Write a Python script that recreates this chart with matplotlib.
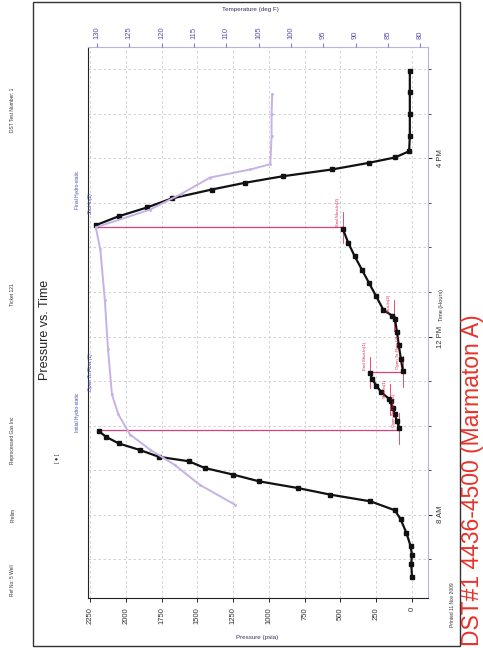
import numpy as np
import matplotlib.pyplot as plt
from matplotlib.patches import Rectangle

plt.rcParams['font.family'] = ['Liberation Sans', 'DejaVu Sans']

# ---- data (time in hours of day, pressure in psia, temperature in deg F)
# run in hole
run_t = [6.6, 6.9, 7.1, 7.3, 7.6, 7.9, 8.1, 8.3, 8.45, 8.6, 8.75, 8.9, 9.05, 9.2, 9.3, 9.45, 9.6, 9.75, 9.88]
run_p = [0, 5, 0, 10, 40, 80, 120, 290, 570, 800, 1070, 1250, 1450, 1560, 1770, 1900, 2050, 2140, 2190]
# first flow
ff1_t = [9.95, 10.1, 10.25, 10.4, 10.55]
ff1_p = [90, 105, 120, 135, 150]
# initial shut-in
isi_t = [10.6, 10.75, 10.9, 11.05, 11.19]
isi_p = [160, 215, 250, 278, 295]
# second flow
ff2_t = [11.22, 11.5, 11.8, 12.1, 12.4]
ff2_p = [63, 78, 92, 105, 119]
# final shut-in
fsi_t = [12.47, 12.6, 12.9, 13.2, 13.5, 13.8, 14.1, 14.42]
fsi_p = [140, 200, 250, 300, 350, 400, 445, 484]
# pull out of hole
pull_t = [14.5, 14.7, 14.9, 15.1, 15.3, 15.45, 15.6, 15.75, 15.9, 16.02, 16.16, 16.5, 17.0, 17.5, 17.96]
pull_p = [2210, 2050, 1850, 1680, 1400, 1170, 900, 560, 300, 119, 20, 15, 15, 15, 15]
# temperature
temp_t = [8.22, 8.67, 9.12, 9.46, 9.8, 10.25, 10.7, 11.71, 12.83, 13.96, 14.45,
          14.85, 15.2, 15.57, 15.75, 15.87, 16.5, 17.0, 17.44]
temp_f = [108.6, 114.1, 118.0, 121.8, 124.9, 126.7, 127.7, 128.3, 128.8, 129.5, 130.2,
          121.8, 117.0, 112.5, 106.3, 103.2, 103.0, 103.0, 102.9]

p_ticks = [0, 250, 500, 750, 1000, 1250, 1500, 1750, 2000, 2250]
t_ticks = [8, 12, 16]
t_labels = ['8 AM', '12 PM', '4 PM']
temp_ticks = [130, 125, 120, 115, 110, 105, 100, 95, 90, 85, 80]

# events: (time, pressure, label)
events = [(9.91, 2190, 'Initial Hydro-static'), (9.93, 90, 'Open To Flow (1)'),
          (10.58, 155, 'Shut-In(1)'), (11.2, 295, 'End Shut-In(1)'),
          (11.21, 63, 'Open To Flow (2)'), (12.47, 125, 'Shut-In(2)'),
          (14.44, 484, 'End Shut-In(2)'), (14.45, 2200, 'Final Hydro-static')]

W, H = 483, 648
fig = plt.figure(figsize=(W / 100, H / 100), dpi=100)


def fx(x):
    return x / W


def fy(y):
    return 1 - y / H


ax = fig.add_axes([fx(88), fy(598), fx(428) - fx(88), fy(47) - fy(598)])
ax.set_xlim(2265, -112)
ax.set_ylim(6.13, 18.5)

for t in np.arange(7, 19, 1):
    ax.axhline(t, color='#c9c9d6', lw=0.6, ls=(0, (3, 3)), zorder=0)
for p in p_ticks:
    ax.axvline(p, color='#c9c9d6', lw=0.6, ls=(0, (3, 3)), zorder=0)

# temperature on twin axis
ax2 = ax.twiny()
ax2.set_xlim(131.4, 78.8)
ax2.plot(temp_f, temp_t, color='#c6b2e4', lw=1.4, marker='.', ms=2, zorder=2)
ax2.set_xticks(temp_ticks)
ax2.set_xticklabels([str(v) for v in temp_ticks], rotation=90, fontsize=5.5, color='#5b4fa8')
ax2.tick_params(axis='x', length=3, color='#8a80c8', pad=3)
for s in ax2.spines.values():
    s.set_visible(False)

# pressure traces
for tt, pp in [(run_t, run_p), (ff1_t, ff1_p), (isi_t, isi_p), (ff2_t, ff2_p), (fsi_t, fsi_p), (pull_t, pull_p)]:
    ax.plot(pp, tt, color='#111111', lw=1.6, marker='s', ms=2.2, zorder=4)

# magenta jumps between events
jumps = [(run_p[-1], ff1_p[0], 9.91), (isi_p[-1], ff2_p[0], 11.2), (fsi_p[-1], pull_p[0], 14.45),
         (ff1_p[-1], isi_p[0], 10.58), (ff2_p[-1], fsi_p[0], 12.47)]
for p0, p1, t in jumps:
    ax.plot([p0, p1], [t, t], color='#e0407a', lw=0.9, zorder=3)

for t, p, lab in events:
    if p > 1500:
        continue
    ax.plot([p, p], [t - 0.35, t + 0.35], color='#e8305a', lw=0.6, zorder=3)
    ax.text(p + 20, t + 0.05, lab, rotation=90, fontsize=3.2, color='#e0204a',
            ha='right', va='bottom', zorder=5)

ax.text(2340, 10.3, 'Initial Hydro-static', rotation=90, fontsize=3.5, color='#4a4ab0', ha='center', va='center')
ax.text(2250, 11.2, 'Open To Flow (1)', rotation=90, fontsize=3.5, color='#4a4ab0', ha='center', va='center', style='italic')
ax.text(2340, 15.3, 'Final Hydro-static', rotation=90, fontsize=3.5, color='#4a4ab0', ha='center', va='center')
ax.text(2250, 15.0, 'Shut-In(2)', rotation=90, fontsize=3.5, color='#4a4ab0', ha='center', va='center', style='italic')

ax.set_xticks(p_ticks)
ax.set_xticklabels([str(v) for v in p_ticks], rotation=90, fontsize=5.5, color='#333333')
ax.yaxis.tick_right()
ax.set_yticks(t_ticks)
ax.set_yticklabels(t_labels, rotation=90, fontsize=5.5, va='center', color='#333333')
ax.set_yticks(np.arange(7, 19, 1), minor=True)
ax.tick_params(axis='both', length=3, width=0.6)
ax.tick_params(axis='y', which='minor', length=2, width=0.5)
ax.spines['left'].set_color('#222222')
ax.spines['bottom'].set_color('#222222')
ax.spines['right'].set_color('#b8b4dc')
ax.spines['top'].set_color('#b8b4dc')
for s in ax.spines.values():
    s.set_linewidth(0.8)
ax.set_facecolor('none')

# texts
fig.text(fx(45), fy(330), 'Pressure vs. Time', rotation=90, fontsize=9, ha='center', va='center', color='#222222')
fig.text(fx(58), fy(458), '[ \u25cf ]', rotation=90, fontsize=4, ha='center', va='center', color='#333333')
fig.text(fx(250), fy(10), 'Temperature (deg F)', fontsize=4.5, ha='center', va='center', color='#333366')
fig.text(fx(257), fy(637), 'Pressure (psia)', fontsize=4.5, ha='center', va='center', color='#333366')
fig.text(fx(441), fy(305), 'Time (Hours)', rotation=90, fontsize=4, ha='center', va='center', color='#333333')
fig.text(fx(452), fy(605), 'Printed 11 Nov 2009', rotation=90, fontsize=3.5, ha='center', va='center', color='#333333')

header = [(580, 'Ref No: 5 Well'), (515, 'Prelim'), (440, 'Reprocessed Gas Inc'), (295, 'Ticket 121'), (110, 'DST Test Number: 1')]
for y, s in header:
    fig.text(fx(13), fy(y), s, rotation=90, fontsize=3.5, ha='center', va='center', color='#333333')

fig.text(fx(472), fy(646), 'DST#1 4436-4500 (Marmaton A)', rotation=90, fontsize=16.5,
         color='#e8322a', ha='center', va='bottom')

fig.patches.append(Rectangle((fx(33), fy(646)), fx(460) - fx(33), fy(2) - fy(646), transform=fig.transFigure,
                             fill=False, ec='#333333', lw=1.0))

fig.savefig('out.png', dpi=100)
